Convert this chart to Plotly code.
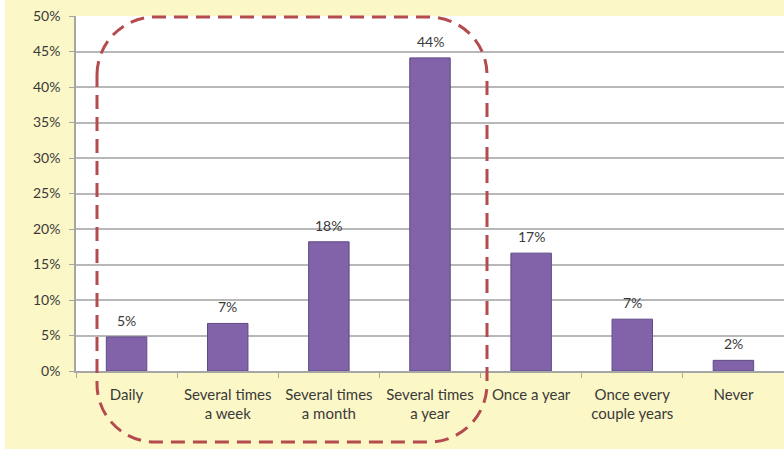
import plotly.graph_objects as go

categories = ["Daily", "Several times<br>a week", "Several times<br>a month",
              "Several times<br>a year", "Once a year", "Once every<br>couple years", "Never"]
values = [4.8, 6.7, 18.2, 44.1, 16.6, 7.3, 1.5]
labels = ["5%", "7%", "18%", "44%", "17%", "7%", "2%"]
y_ticks = [0, 5, 10, 15, 20, 25, 30, 35, 40, 45, 50]
y_tick_labels = ["0%", "5%", "10%", "15%", "20%", "25%", "30%", "35%", "40%", "45%", "50%"]

W, H = 784, 449
ML, MR, MT, MB = 76, 0, 16, 78
PW, PH = W - ML - MR, H - MT - MB


def px(x):
    return (x - ML) / PW


def py(y):
    return (H - MB - y) / PH


def rounded_rect(L, T, R, B, r):
    k = 0.5523 * r
    pts = [
        ("M", [(L, T + r)]),
        ("C", [(L, T + r - k), (L + r - k, T), (L + r, T)]),
        ("L", [(R - r, T)]),
        ("C", [(R - r + k, T), (R, T + r - k), (R, T + r)]),
        ("L", [(R, B - r)]),
        ("C", [(R, B - r + k), (R - r + k, B), (R - r, B)]),
        ("L", [(L + r, B)]),
        ("C", [(L + r - k, B), (L, B - r + k), (L, B - r)]),
    ]
    s = ""
    for cmd, ps in pts:
        s += cmd + " " + " ".join(f"{px(a):.5f},{py(b):.5f}" for a, b in ps) + " "
    return s + "Z"


fig = go.Figure()
fig.add_trace(go.Bar(
    x=categories, y=values,
    marker=dict(color="#8263AA", line=dict(color="#5E4A85", width=1)),
    cliponaxis=False, width=0.4, hoverinfo="skip",
))

annotations = [
    dict(x=c, y=v, text=t, xref="x", yref="y", showarrow=False,
         yanchor="bottom", yshift=6,
         font=dict(family="Lato", size=14, color="#3A3A3A"))
    for c, v, t in zip(categories, values, labels)
]

fig.update_layout(
    width=W, height=H,
    margin=dict(l=ML, r=MR, t=MT, b=MB),
    paper_bgcolor="#FCF7C6", plot_bgcolor="#FFFFFF",
    showlegend=False,
    font=dict(family="Lato", size=14, color="#404040"),
    annotations=annotations,
    xaxis=dict(
        type="category", showline=True, linecolor="#A6A6A6", linewidth=1.5,
        ticks="outside", tickson="boundaries", ticklen=5, tickcolor="#A6A6A6",
        tickfont=dict(family="Lato", size=15, color="#3A3A3A"),
        ticklabelstandoff=9,
        showgrid=False, automargin=False,
    ),
    yaxis=dict(
        range=[0, 50], tickvals=y_ticks, ticktext=y_tick_labels,
        showline=True, linecolor="#A6A6A6", linewidth=1.5,
        ticks="outside", ticklen=5, tickcolor="#A6A6A6",
        ticklabelstandoff=6,
        gridcolor="#B8B8B8", gridwidth=1.5, zeroline=False,
        tickfont=dict(family="Lato", size=14, color="#3A3A3A"),
        automargin=False,
    ),
    shapes=[
        dict(type="rect", xref="paper", yref="paper", x0=px(0), x1=px(5),
             y0=py(H), y1=py(0), fillcolor="#FFFFFF", line=dict(width=0), layer="below"),
        dict(type="path", xref="paper", yref="paper",
             path=rounded_rect(97, 17, 487, 442, 58),
             line=dict(color="#B34B4F", width=3, dash="14px,8px")),
    ],
)

fig.write_html("out.html", config={"displayModeBar": False},
               post_script="document.body.style.margin='0';document.body.style.overflow='hidden';")
